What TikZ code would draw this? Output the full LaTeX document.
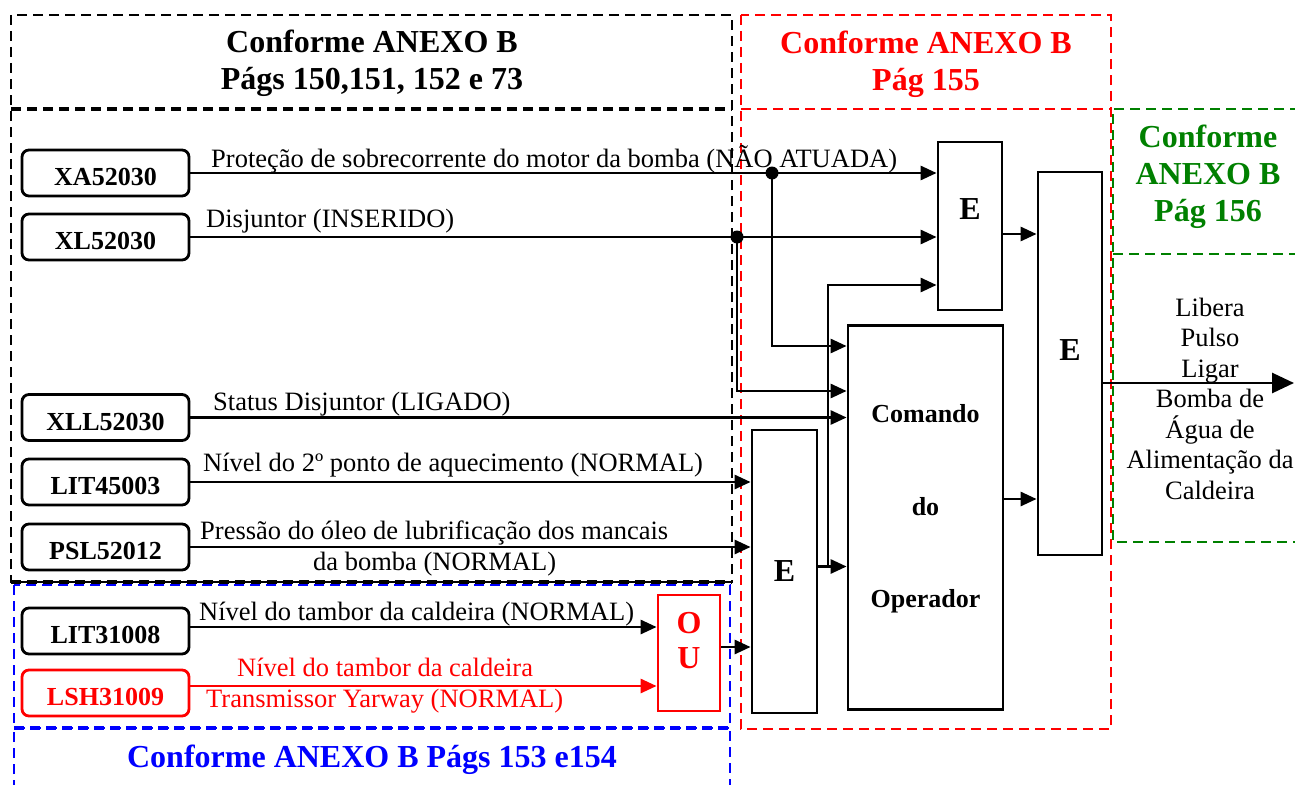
\documentclass[tikz,border=0pt]{standalone}
\usepackage{fontspec}
\setmainfont{Liberation Serif}
\usetikzlibrary{arrows.meta}

\definecolor{anexogreen}{RGB}{0,128,0}

\tikzstyle{source} = [rectangle, rounded corners=7pt, minimum width=167pt, minimum height=46pt, text height=26pt, draw=black, line width=2.8pt, font=\fontsize{26}{30}\selectfont\bfseries]
\tikzstyle{gate} = [rectangle, draw=black, line width=2.8pt, font=\fontsize{32}{36}\selectfont\bfseries]
\tikzstyle{sigtext} = [inner sep=0pt, anchor=base west, font=\fontsize{26.5}{31}\selectfont]
\tikzstyle{heading} = [align=center, font=\fontsize{32}{37}\selectfont\bfseries]
\tikzstyle{zone} = [line width=2.6pt, dash pattern=on 10pt off 6pt]
\tikzstyle{arrow} = [line width=2.8pt, -{Triangle[length=16pt,width=14pt]}]

\begin{document}
\begin{tikzpicture}[x=1pt, y=-1pt]
			\useasboundingbox (0,0) rectangle (1295,784);
			
			\draw [zone] (11,15) rectangle (732,582);
			\draw [zone, line width=4pt] (11,109) -- (732,109);
			\draw [zone, line width=4pt] (11,582) -- (732,582);
			\draw [zone, blue] (14,585) rectangle (730,728);
			\draw [zone, blue, line width=4pt] (14,728) -- (730,728);
			\draw [zone, blue] (14,790) -- (14,731) (730,731) -- (730,790);
			\draw [zone, red] (741,15) rectangle (1111,729);
			\draw [zone, red] (741,109) -- (1111,109);
			\draw [zone, anexogreen] (1300,109) -- (1113,109) -- (1113,542) -- (1300,542);
			\draw [zone, anexogreen] (1113,254) -- (1300,254);
			
			\node (titblack) [heading] at (372,63.5) {Conforme ANEXO B\\Págs 150,151, 152 e 73};
			\node (titred) [heading, text=red] at (926,64) {Conforme ANEXO B\\Pág 155};
			\node (titgreen) [heading, text=anexogreen] at (1208,177) {Conforme\\ANEXO B\\Pág 156};
			\node (titblue) [heading, text=blue] at (372,760) {Conforme ANEXO B Págs 153 e154};
			
			\node (xa) [source] at (105.5,173) {XA52030};
			\node (xl) [source] at (105.5,237) {XL52030};
			\node (xll) [source] at (105.5,417.5) {XLL52030};
			\node (lita) [source] at (105.5,482) {LIT45003};
			\node (psl) [source] at (105.5,547) {PSL52012};
			\node (litb) [source] at (105.5,631) {LIT31008};
			\node (lsh) [source, draw=red, text=red] at (105.5,693) {LSH31009};
			
			\node (labxa) [sigtext] at (211,167) {Proteção de sobrecorrente do motor da bomba (NÃO ATUADA)};
			\node (labxl) [sigtext] at (206,227) {Disjuntor (INSERIDO)};
			\node (labxll) [sigtext] at (213,410) {Status Disjuntor (LIGADO)};
			\node (labla) [sigtext] at (203,471) {Nível do 2º ponto de aquecimento (NORMAL)};
			\node (labpsl) [sigtext] at (200,539) {Pressão do óleo de lubrificação dos mancais};
			\node (labpslb) [sigtext] at (313,570) {da bomba (NORMAL)};
			\node (lablb) [sigtext] at (199,620) {Nível do tambor da caldeira (NORMAL)};
			\node (lablsh) [sigtext, text=red] at (237,676) {Nível do tambor da caldeira};
			\node (lablshb) [sigtext, text=red] at (206,707) {Transmissor Yarway (NORMAL)};
			
			\node (ou) [gate, draw=red, minimum width=62pt, minimum height=116pt] at (689,653) {};
			\node (outext) [align=center, text=red, font=\fontsize{32}{35}\selectfont\bfseries] at (689,640.5) {O\\U};
			\node (le) [gate, minimum width=65pt, minimum height=283pt] at (784.5,571.5) {E};
			\node (ue) [gate, minimum width=64pt, minimum height=168pt, text depth=34pt] at (970,226) {E};
			\node (cmd) [gate, minimum width=155pt, minimum height=384pt] at (925.5,517.5) {};
			\node (cmdtext) [align=center, font=\fontsize{26}{92.5}\selectfont\bfseries] at (925.5,509) {Comando\\do\\Operador};
			\node (be) [gate, minimum width=64pt, minimum height=383pt, text depth=27pt] at (1070,363.5) {E};
			\node (outtxt) [align=center, font=\fontsize{26.5}{30.5}\selectfont] at (1210,398.5) {Libera\\Pulso\\Ligar\\Bomba de\\Água de\\Alimentação da\\Caldeira};
			
			\coordinate (dxa) at (772,173);
			\coordinate (dxl) at (737,237);
			\coordinate (brk) at (828,566.5);
			\coordinate (out) at (1294,383);
			
			\draw [arrow] (xa.east) -- (xa.east -| ue.west);
			\draw [arrow] (xl.east) -- (xl.east -| ue.west);
			\draw [arrow] (dxa) |- (cmd.west |- 0,346);
			\draw [arrow] (dxl) |- (cmd.west |- 0,391);
			\draw [arrow] (xll.east) -- (xll.east -| cmd.west);
			\draw [arrow] (lita.east) -- (lita.east -| le.west);
			\draw [arrow] (psl.east) -- (psl.east -| le.west);
			\draw [arrow] ([yshift=4pt]litb.east) -- ([yshift=4pt]litb.east -| ou.west);
			\draw [arrow, red] ([yshift=7pt]lsh.east) -- ([yshift=7pt]lsh.east -| ou.west);
			\draw [arrow] ([yshift=6pt]ou.east) -- ([yshift=6pt]ou.east -| le.west);
			\draw [arrow] ([yshift=5pt]le.east) -- ([yshift=5pt]le.east -| cmd.west);
			\draw [arrow] (brk) |- (ue.west |- 0,285);
			\draw [arrow] ([yshift=-8pt]ue.east) -- ([yshift=-8pt]ue.east -| be.west);
			\draw [arrow] ([yshift=18.5pt]cmd.east) -- ([yshift=18.5pt]cmd.east -| be.west);
			\draw [line width=2.8pt, -{Triangle[length=22pt,width=20pt]}] ([yshift=-19.5pt]be.east) -- (out);
			\fill (dxa) circle (6.5pt);
			\fill (dxl) circle (6.5pt);
			
		\end{tikzpicture}
\end{document}
